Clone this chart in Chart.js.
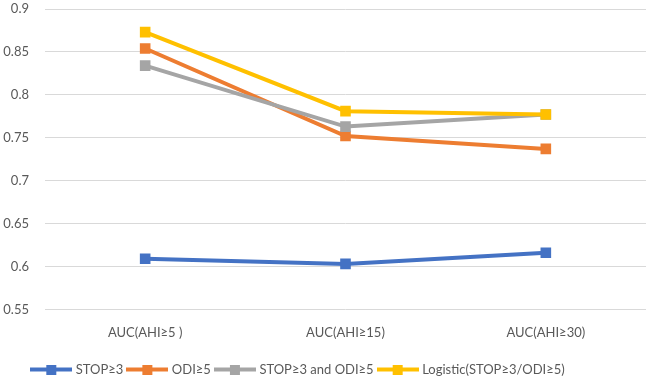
<!DOCTYPE html>
<html>
<head>
<meta charset="utf-8">
<script src="https://cdn.jsdelivr.net/npm/chart.js@4/dist/chart.umd.min.js"></script>
<style>
  html, body { margin: 0; padding: 0; background: #fff; overflow: hidden; }
  #wrap { width: 646px; height: 378px; position: relative; }
  canvas { display: block; }
</style>
</head>
<body>
<div id="wrap"><canvas id="c"></canvas></div>
<script>
const categories = ['AUC(AHI\u22655 )', 'AUC(AHI\u226515)', 'AUC(AHI\u226530)'];
const seriesNames = ['STOP\u22653', 'ODI\u22655', 'STOP\u22653 and ODI\u22655', 'Logistic(STOP\u22653/ODI\u22655)'];
const stop3      = [0.609, 0.603, 0.616];
const odi5       = [0.854, 0.752, 0.737];
const stopAndOdi = [0.834, 0.763, 0.777];
const logistic   = [0.873, 0.781, 0.777];
const colors = ['#4472C4', '#ED7D31', '#A5A5A5', '#FFC000'];

const txt = '#595959';
const font = { family: 'Lato, "Open Sans", sans-serif', size: 13 };

// legend sample: line with square marker
function sample(color) {
  const cv = document.createElement('canvas');
  cv.width = 42; cv.height = 10;
  const g = cv.getContext('2d');
  g.strokeStyle = color; g.lineWidth = 4;
  g.beginPath(); g.moveTo(0, 5); g.lineTo(42, 5); g.stroke();
  g.fillStyle = color; g.fillRect(16, 0, 10, 10);
  return cv;
}

const values = [stop3, odi5, stopAndOdi, logistic];
const datasets = values.map((v, i) => ({
  label: seriesNames[i],
  data: v,
  borderColor: colors[i],
  backgroundColor: colors[i],
  borderWidth: 4,
  pointStyle: 'rect',
  pointRadius: 7.5,
  pointHoverRadius: 7.5,
  pointBorderWidth: 0,
  order: 3 - i,
}));

const shiftLegend = {
  id: 'shiftLegend',
  afterLayout(ch) { ch.legend.left -= 24; ch.legend.right -= 24; }
};

new Chart(document.getElementById('c'), {
  type: 'line',
  data: { labels: categories, datasets },
  options: {
    responsive: true, maintainAspectRatio: false,
    animation: false,
    layout: { autoPadding: false, padding: { top: 0, left: 0, right: 0, bottom: -8 } },
    plugins: {
      tooltip: { enabled: false },
      legend: {
        position: 'bottom',
        labels: {
          color: txt, font,
          usePointStyle: true,
          pointStyleWidth: 36,
          padding: 6,
          generateLabels: ch => ch.data.datasets.map((ds, i) => ({
            text: ds.label, fontColor: txt, pointStyle: sample(ds.borderColor),
            lineWidth: 0, strokeStyle: 'transparent', fillStyle: ds.borderColor,
            datasetIndex: i, hidden: false,
          }))
        }
      }
    },
    scales: {
      x: {
        offset: true,
        afterFit(s) { s.paddingLeft = 0; s.paddingRight = 0; },
        grid: { display: false, drawTicks: false },
        border: { display: false },
        ticks: { color: txt, font, padding: 16 }
      },
      y: {
        min: 0.55, max: 0.9,
        afterFit(s) { s.width = 45; s.paddingTop = 9; },
        grid: { color: '#D9D9D9', lineWidth: 1, drawTicks: false },
        border: { display: false },
        ticks: {
          color: txt, font, stepSize: 0.05, padding: 16,
          callback: v => String(Math.round(v * 100) / 100)
        }
      }
    }
  },
  plugins: [shiftLegend]
});
</script>
</body>
</html>
